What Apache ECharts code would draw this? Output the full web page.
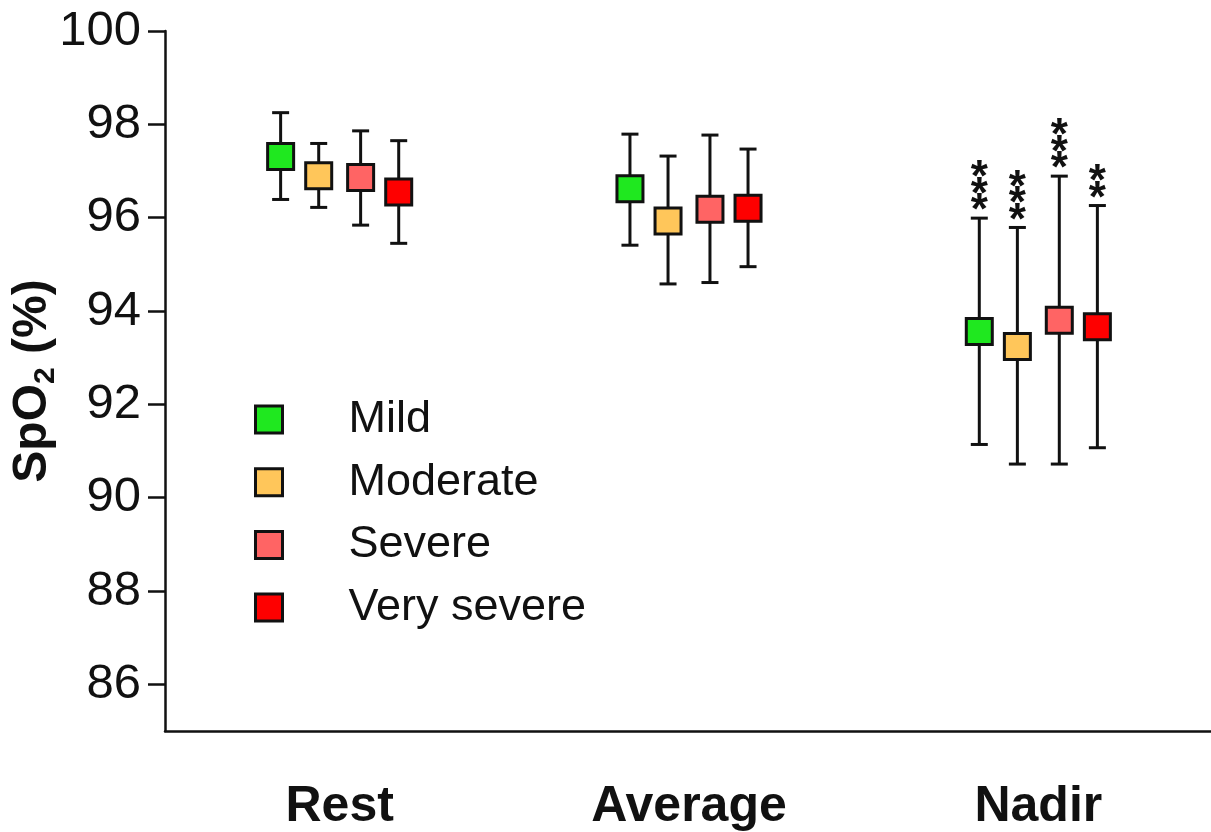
<!DOCTYPE html>
<html><head><meta charset="utf-8">
<script src="https://cdn.jsdelivr.net/npm/echarts@6/dist/echarts.min.js"></script>
<style>html,body{margin:0;padding:0;background:#fff}#c{width:1211px;height:832px}</style>
</head><body><div id="c"></div>
<script>
const categories = ['Rest', 'Average', 'Nadir'];
const severities = ['Mild', 'Moderate', 'Severe', 'Very severe'];
const colors = ['#1fe81f', '#ffc65a', '#ff6464', '#fe0000'];
const yTicks = [86, 88, 90, 92, 94, 96, 98, 100];

// mean values per group (Rest, Average, Nadir)
const mildMean = [97.31, 96.62, 93.56];
const moderateMean = [96.90, 95.93, 93.24];
const severeMean = [96.86, 96.18, 93.80];
const verySevereMean = [96.55, 96.20, 93.66];
// whisker tops
const mildHigh = [98.25, 97.79, 95.99];
const moderateHigh = [97.59, 97.32, 95.79];
const severeHigh = [97.86, 97.77, 96.89];
const verySevereHigh = [97.65, 97.47, 96.26];
// whisker bottoms
const mildLow = [96.39, 95.41, 91.14];
const moderateLow = [96.22, 94.58, 90.72];
const severeLow = [95.84, 94.61, 90.72];
const verySevereLow = [95.45, 94.95, 91.07];
// significance marks
const mildSig = ['', '', '***'];
const moderateSig = ['', '', '***'];
const severeSig = ['', '', '***'];
const verySevereSig = ['', '', '**'];

const means = [mildMean, moderateMean, severeMean, verySevereMean];
const highs = [mildHigh, moderateHigh, severeHigh, verySevereHigh];
const lows = [mildLow, moderateLow, severeLow, verySevereLow];
const sigs = [mildSig, moderateSig, severeSig, verySevereSig];
const offsets = [-0.169, -0.06, 0.06, 0.169];

const FONT = "'Liberation Sans', Arial, Helvetica, sans-serif";
const chart = echarts.init(document.getElementById('c'));

const series = [];
const barData = [];
severities.forEach((name, s) => {
  categories.forEach((c, i) => {
    barData.push([i + offsets[s], lows[s][i], highs[s][i], sigs[s][i].length]);
  });
});
series.push({
  type: 'custom',
  name: 'whiskers',
  xAxisIndex: 1,
  z: 1,
  clip: false,
  encode: { x: 0, y: [1, 2] },
  data: barData,
  renderItem(params, api) {
    const x = api.value(0), lo = api.value(1), hi = api.value(2), n = api.value(3);
    const pLo = api.coord([x, lo]);
    const pHi = api.coord([x, hi]);
    const cap = 8.5;
    const st = { stroke: '#111', lineWidth: 3 };
    const children = [
      { type: 'line', shape: { x1: pLo[0], y1: pLo[1], x2: pHi[0], y2: pHi[1] }, style: st },
      { type: 'line', shape: { x1: pLo[0] - cap, y1: pLo[1], x2: pLo[0] + cap, y2: pLo[1] }, style: st },
      { type: 'line', shape: { x1: pHi[0] - cap, y1: pHi[1], x2: pHi[0] + cap, y2: pHi[1] }, style: st }
    ];
    for (let k = 0; k < n; k++) {
      children.push({
        type: 'text',
        x: pHi[0], y: pHi[1] - 6 - k * 16.5,
        style: { text: '*', fill: '#111', font: 'bold 44px ' + FONT, align: 'center', verticalAlign: 'middle' }
      });
    }
    return { type: 'group', children };
  }
});
severities.forEach((name, s) => {
  series.push({
    type: 'scatter',
    name,
    xAxisIndex: 1,
    z: 3,
    symbol: 'rect',
    symbolSize: 26,
    itemStyle: { color: colors[s], borderColor: '#111', borderWidth: 3, opacity: 1 },
    data: categories.map((c, i) => [i + offsets[s], means[s][i]])
  });
});

chart.setOption({
  animation: false,
  backgroundColor: '#fff',
  textStyle: { fontFamily: FONT },
  grid: { left: 165, top: 31, width: 1048, height: 700, containLabel: false, outerBoundsMode: 'none' },
  legend: {
    orient: 'vertical',
    left: 254,
    top: 397,
    padding: 0,
    itemGap: 17.7,
    itemWidth: 27,
    itemHeight: 27,
    icon: 'rect',
    data: severities,
    itemStyle: { borderColor: '#111', borderWidth: 3 },
    textStyle: { fontSize: 45, color: '#111', fontFamily: FONT, lineHeight: 30, padding: [0, 0, 0, 61] }
  },
  xAxis: [
    {
      type: 'category',
      data: categories,
      boundaryGap: true,
      axisLine: { onZero: false, lineStyle: { color: '#111', width: 2.5 } },
      axisTick: { alignWithLabel: true, length: 19, lineStyle: { color: '#111', width: 2.5 } },
      axisLabel: { fontSize: 50, fontWeight: 'bold', color: '#111', margin: 51, fontFamily: FONT },
      splitLine: { show: false }
    },
    { type: 'value', min: -0.5, max: 2.5, show: false }
  ],
  yAxis: {
    type: 'value',
    min: 85,
    max: 100,
    name: '{a|SpO}{b|2}{a| (%)}',
    nameLocation: 'middle',
    nameRotate: 90,
    nameGap: 104,
    nameMoveOverlap: false,
    nameTextStyle: {
      rich: {
        a: { fontSize: 48, fontWeight: 'bold', color: '#111', fontFamily: FONT, lineHeight: 56 },
        b: { fontSize: 30, fontWeight: 'bold', color: '#111', fontFamily: FONT, lineHeight: 20, verticalAlign: 'bottom' }
      }
    },
    axisLine: { show: true, onZero: false, lineStyle: { color: '#111', width: 2.5 } },
    axisTick: { show: true, length: 17, customValues: yTicks, lineStyle: { color: '#111', width: 2.5 } },
    axisLabel: { fontSize: 49, color: '#111', margin: 24, customValues: yTicks, fontFamily: FONT },
    splitLine: { show: false }
  },
  series
});
</script></body></html>
